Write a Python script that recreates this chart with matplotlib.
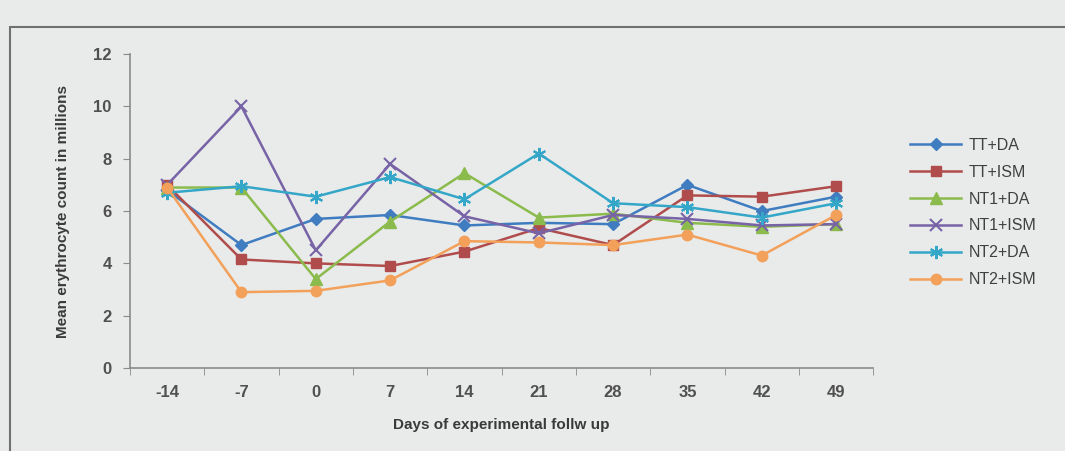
import numpy as np
import matplotlib.pyplot as plt
from matplotlib.patches import Rectangle

# days of follow up (category axis)
days = ['-14', '-7', '0', '7', '14', '21', '28', '35', '42', '49']

# mean erythrocyte count (millions) per group
tt_da = [6.8, 4.7, 5.7, 5.85, 5.45, 5.55, 5.5, 7.0, 6.0, 6.55]
tt_ism = [7.0, 4.15, 4.0, 3.9, 4.45, 5.35, 4.7, 6.6, 6.55, 6.95]
nt1_da = [6.9, 6.9, 3.4, 5.6, 7.45, 5.75, 5.9, 5.55, 5.4, 5.5]
nt1_ism = [7.0, 10.0, 4.5, 7.8, 5.8, 5.15, 5.85, 5.7, 5.45, 5.5]
nt2_da = [6.7, 6.95, 6.55, 7.3, 6.45, 8.2, 6.3, 6.15, 5.75, 6.3]
nt2_ism = [6.9, 2.9, 2.95, 3.35, 4.85, 4.8, 4.7, 5.1, 4.3, 5.85]

series = [
    ('TT+DA', tt_da, '#3f7cc0', 'D', 6.5),
    ('TT+ISM', tt_ism, '#b04c4c', 's', 7.5),
    ('NT1+DA', nt1_da, '#8bbb4c', '^', 8.5),
    ('NT1+ISM', nt1_ism, '#7763a6', 'x', 8.5),
    ('NT2+DA', nt2_da, '#34a6c8', (6, 2, 0), 9.5),
    ('NT2+ISM', nt2_ism, '#f2a05a', 'o', 7.5),
]

bg = '#e9ebea'
plt.rcParams['font.family'] = ['Liberation Sans', 'DejaVu Sans']

fig = plt.figure(figsize=(10.65, 4.51), dpi=100, facecolor=bg)
ax = fig.add_axes([0.122, 0.184, 0.698, 0.696], facecolor=bg)

# chart frame
fig.patches.append(Rectangle((0.009, -0.05), 1.2, 0.99, transform=fig.transFigure,
                             fill=False, edgecolor='#707070', linewidth=1.5))

x = np.arange(len(days))
for name, vals, col, mk, ms in series:
    ax.plot(x, vals, color=col, marker=mk, markersize=ms, linewidth=1.8,
            markeredgewidth=1.5 if mk in ('x', (6, 2, 0)) else 1,
            markeredgecolor=col, label=name)

ax.set_xlim(-0.5, len(days) - 0.5)
ax.set_ylim(0, 12)
ax.set_yticks(np.arange(0, 13, 2))
ax.set_xticks(x)
ax.set_xticklabels(days)
ax.set_xticks(np.arange(-0.5, len(days), 1), minor=True)
ax.tick_params(axis='x', which='major', length=0, pad=12)
ax.tick_params(axis='x', which='minor', length=5, color='#8a8a8a', direction='out')
ax.tick_params(axis='y', length=5, color='#8a8a8a', direction='out', pad=8)
for lab in ax.get_xticklabels() + ax.get_yticklabels():
    lab.set_fontsize(12)
    lab.set_fontweight('bold')
    lab.set_color('#505050')

for s in ['top', 'right']:
    ax.spines[s].set_visible(False)
for s in ['left', 'bottom']:
    ax.spines[s].set_color('#8a8a8a')
    ax.spines[s].set_linewidth(1.2)

ax.set_xlabel('Days of experimental follw up', fontsize=11, fontweight='bold',
              color='#3a3a3a', labelpad=13)
ax.set_ylabel('Mean erythrocyte count in millions', fontsize=11, fontweight='bold',
              color='#3a3a3a', labelpad=17)

leg = ax.legend(loc='upper left', bbox_to_anchor=(1.03, 0.78), frameon=False,
                fontsize=11.5, handlelength=3.2, labelspacing=0.75, handletextpad=0.5)
for t in leg.get_texts():
    t.set_color('#404040')

fig.savefig('out.png', dpi=100, facecolor=bg)
